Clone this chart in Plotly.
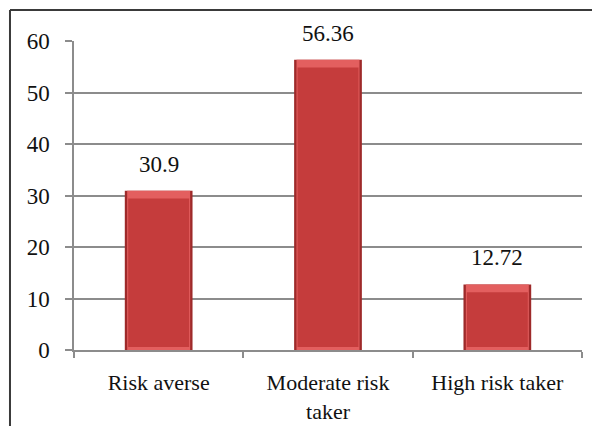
import plotly.graph_objects as go

# Share of respondents by risk attitude (%)
categories = ["Risk averse", "Moderate risk<br>taker", "High risk taker"]
values = [30.9, 56.36, 12.72]
value_labels = ["30.9", "56.36", "12.72"]
y_ticks = [0, 10, 20, 30, 40, 50, 60]

FONT = "Liberation Serif"
FONT_SIZE = 23
TEXT_COLOR = "#111111"
BAR_W = 0.40
TOP_BEVEL = 1.5   # height of the lighter top bevel, in data units
BOTTOM_BEVEL = 0.6

fig = go.Figure()

# dark outer body (side bevels)
fig.add_trace(go.Bar(
    x=categories, y=values, width=BAR_W,
    marker=dict(color="#9e2a2a", line=dict(width=0)),
    hoverinfo="skip",
))
# lighter top bevel
fig.add_trace(go.Bar(
    x=categories, y=values, width=BAR_W * 0.93,
    marker=dict(color="#e35f5f", line=dict(width=0)),
    hoverinfo="skip",
))
# main face of each bar
fig.add_trace(go.Bar(
    x=categories,
    y=[v - TOP_BEVEL - BOTTOM_BEVEL for v in values],
    base=[BOTTOM_BEVEL] * len(values),
    width=BAR_W * 0.90,
    marker=dict(color="#c53c3c", line=dict(width=0)),
    hovertemplate="%{x}: %{customdata}<extra></extra>",
    customdata=value_labels,
))

# value labels above the bars
for cat, v, lab in zip(categories, values, value_labels):
    fig.add_annotation(
        x=cat, y=v, text=lab, showarrow=False,
        yanchor="bottom", yshift=12,
        font=dict(family=FONT, size=FONT_SIZE, color=TEXT_COLOR),
    )

# outer chart frame (left and top edges)
fig.add_shape(type="line", xref="paper", yref="paper",
              x0=-0.126, x1=1.05, y0=1.100, y1=1.100,
              line=dict(color="#3a3a3a", width=2))
fig.add_shape(type="line", xref="paper", yref="paper",
              x0=-0.126, x1=-0.126, y0=1.100, y1=-0.40,
              line=dict(color="#3a3a3a", width=2))

fig.update_layout(
    width=592, height=426,
    margin=dict(l=74, r=10, t=41, b=76, autoexpand=False),
    paper_bgcolor="white", plot_bgcolor="white",
    barmode="overlay",
    showlegend=False,
    font=dict(family=FONT, size=FONT_SIZE, color=TEXT_COLOR),
)

fig.update_xaxes(
    type="category", automargin=False,
    showline=True, linecolor="#8c8c8c", linewidth=1.5,
    ticks="outside", ticklen=6, tickcolor="#8c8c8c", tickwidth=1.5,
    tickson="boundaries",
    showgrid=False,
    ticklabelstandoff=12,
    tickfont=dict(family=FONT, size=22, color=TEXT_COLOR),
)
fig.update_yaxes(
    range=[0, 60], tickvals=y_ticks, automargin=False,
    showline=True, linecolor="#8c8c8c", linewidth=1.5,
    ticks="outside", ticklen=7, tickcolor="#8c8c8c", tickwidth=1.5,
    showgrid=True, gridcolor="#8c8c8c", gridwidth=1.5,
    zeroline=False,
    ticklabelstandoff=11,
    tickfont=dict(family=FONT, size=FONT_SIZE, color=TEXT_COLOR),
)

fig.write_html("out.html")
